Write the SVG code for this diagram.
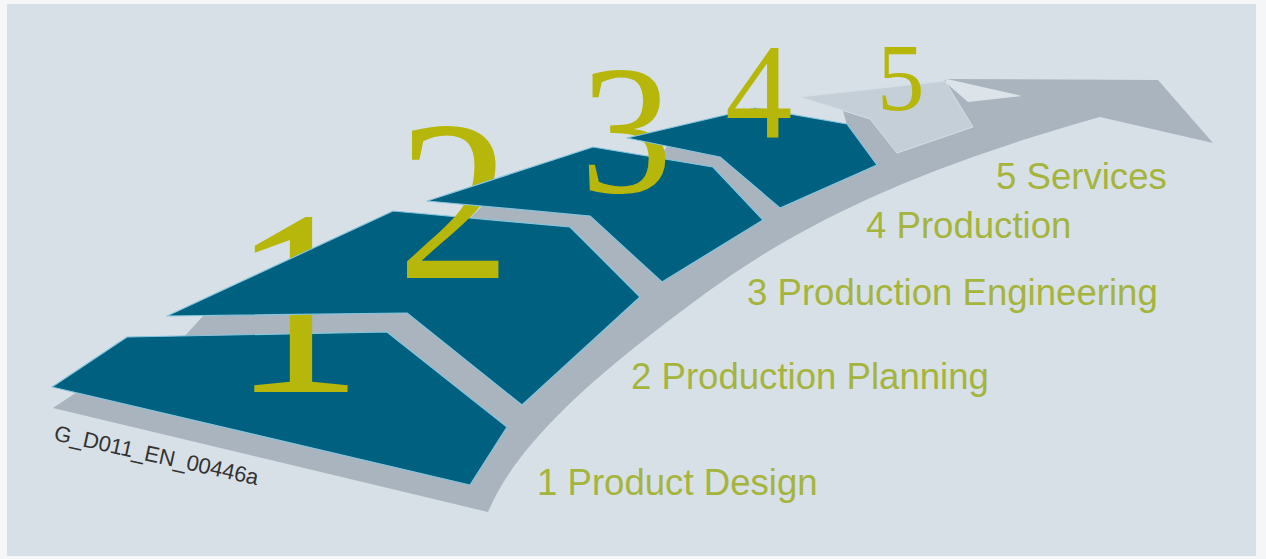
<svg xmlns="http://www.w3.org/2000/svg" width="1266" height="559" viewBox="0 0 1266 559">
  <style>
    .tile { fill: #00607f; stroke: #86c6de; stroke-width: 1.2; stroke-linejoin: round; }
    .tile5 { fill: #c4cfd8; stroke: #d6dee5; stroke-width: 1; }
    .digit { font-family: "Liberation Serif", "Times New Roman", serif; fill: #b6b70a; }
    .label { font-family: "Liberation Sans", Arial, sans-serif; font-size: 36.6px; fill: #a5b43c; }
    .code { font-family: "Liberation Sans", Arial, sans-serif; font-size: 22px; fill: #333333; }
  </style>
  <rect x="0" y="0" width="1266" height="559" fill="#f4f6f7"/>
  <rect x="7" y="4" width="1249" height="552" fill="#d8e0e7"/>

  <g id="arrow">
    <path d="M53,408 L80,390 L170,350 L183,338 L203,316 L207,312 L460,226 L470,218 L484,204 L490,200 L650,165 L657,160 L668,145 L675,142 L835,127 L847,125 L843,111 L860,108 L940,84 L947,79 L1158,80 L1213,143 L1100,117 C840,190 745,262 653,333 C560,405 510,460 488,512 Z" fill="#a9b4be"/>
    <polygon points="947,79 1022,96 968,102 945,82" fill="#dce3e9"/>
  </g>

  <g id="tile-1">
    <polygon class="tile" points="52,387 127,337 387,332 507,427 470,485"/>
    <text class="digit" x="231" y="392" font-size="265">1</text>
    <text class="label" x="537" y="495">1 Product Design</text>
  </g>

  <g id="tile-2">
    <polygon class="tile" points="167,316 393,211 570,227 640,297 522,405 407,313"/>
    <text class="digit" x="397" y="278" font-size="228">2</text>
    <text class="label" x="631" y="389">2 Production Planning</text>
  </g>

  <g id="tile-3">
    <polygon class="tile" points="427,201 593,147 713,167 763,220 662,282 590,216"/>
    <text class="digit" x="580" y="192" font-size="185">3</text>
    <text class="label" x="747" y="305">3 Production Engineering</text>
  </g>

  <g id="tile-4">
    <polygon class="tile" points="627,138 755,108 847,124 877,165 780,208 720,157"/>
    <text class="digit" x="725" y="138" font-size="135">4</text>
    <text class="label" x="866" y="238">4 Production</text>
  </g>

  <g id="tile-5">
    <polygon class="tile5" points="800,97 945,81 973,127 897,153 870,119"/>
    <text class="digit" x="877" y="110" font-size="95">5</text>
    <text class="label" x="996" y="189">5 Services</text>
  </g>

  <text class="code" x="53" y="440" transform="rotate(12.5 53 440)">G_D011_EN_00446a</text>
</svg>
